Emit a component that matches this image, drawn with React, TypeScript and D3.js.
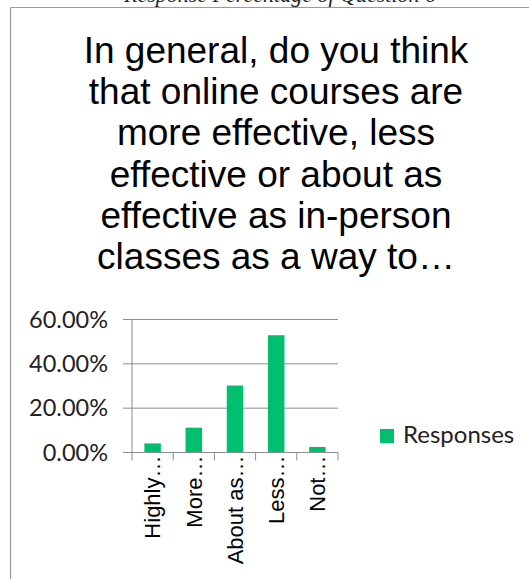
import React from "react";
import * as d3 from "d3";

const categories = ["Highly…", "More…", "About as…", "Less…", "Not…"];
const responses = [0.041, 0.112, 0.302, 0.529, 0.025];
const yTicks = [0, 0.2, 0.4, 0.6];
const seriesName = "Responses";
const titleLines = [
  "In general, do you think",
  "that online courses are",
  "more effective, less",
  "effective or about as",
  "effective as in-person",
  "classes as a way to…",
];
const captionText = "Response Percentage of Question 6";

const W = 529;
const H = 579;
const BAR = "#00BF6F";
const GRID = "#8c8c8c";

export default function App() {
  const x = d3.scaleBand<string>().domain(categories).range([132, 338]).padding(0);
  const y = d3.scaleLinear().domain([0, 0.6]).range([452.5, 319.5]);
  const fmt = d3.format(".2%");
  const bw = x.bandwidth() / 2.5;
  const y0 = y(0);
  const boundaries = categories.map((c) => x(c) as number).concat([x.range()[1]]);

  return (
    <svg
      width={W}
      height={H}
      style={{ position: "absolute", left: 0, top: 0, background: "#fff" }}
    >
      <rect x={0} y={0} width={W} height={H} fill="#fff" />
      {/* caption of the page, cut off at the top edge as in the reference */}
      <text
        x={280}
        y={2}
        textAnchor="middle"
        fontFamily="'Liberation Serif', 'Times New Roman', serif"
        fontStyle="italic"
        fontSize={22}
        fill="#222"
      >
        {captionText}
      </text>
      {/* frame */}
      <line x1={10.5} y1={7.5} x2={W} y2={7.5} stroke="#9a9a9a" strokeWidth={1.2} />
      <line x1={10.5} y1={7.5} x2={10.5} y2={H} stroke="#9a9a9a" strokeWidth={1.2} />

      {/* title */}
      {titleLines.map((t, i) => (
        <text
          key={i}
          x={276}
          y={63 + i * 41.2}
          textAnchor="middle"
          fontFamily="'Liberation Sans', Arial, sans-serif"
          fontSize={37}
          fill="#000"
        >
          {t}
        </text>
      ))}

      {/* gridlines + y ticks */}
      {yTicks.map((t) => (
        <g key={t}>
          <line x1={123} x2={338} y1={y(t)} y2={y(t)} stroke={GRID} strokeWidth={1} />
          <text
            x={108}
            y={y(t)}
            dy="0.35em"
            textAnchor="end"
            fontFamily="Lato, 'Open Sans', sans-serif"
            fontSize={23.5}
            fill="#222"
          >
            {fmt(t)}
          </text>
        </g>
      ))}
      {/* y axis line */}
      <line x1={132} x2={132} y1={y(0.6)} y2={y0} stroke={GRID} strokeWidth={1} />

      {/* bars */}
      {categories.map((c, i) => (
        <rect
          key={c}
          x={(x(c) as number) + (x.bandwidth() - bw) / 2}
          y={y(responses[i])}
          width={bw}
          height={y0 - y(responses[i])}
          fill={BAR}
        />
      ))}

      {/* x axis */}
      <line x1={132} x2={338} y1={y0} y2={y0} stroke={GRID} strokeWidth={1} />
      {boundaries.map((b, i) => (
        <line key={i} x1={b} x2={b} y1={y0} y2={y0 + 8} stroke={GRID} strokeWidth={1} />
      ))}
      {categories.map((c) => {
        const cx = (x(c) as number) + x.bandwidth() / 2;
        return (
          <text
            key={c}
            transform={`translate(${cx},${y0 + 3}) rotate(-90)`}
            textAnchor="end"
            dy="0.35em"
            fontFamily="'Liberation Sans', Arial, sans-serif"
            fontSize={22}
            fill="#000"
          >
            {c}
          </text>
        );
      })}

      {/* legend */}
      <rect x={380} y={429} width={14} height={14} fill={BAR} />
      <text
        x={403}
        y={443}
        fontFamily="Lato, 'Open Sans', sans-serif"
        fontSize={24}
        fill="#222"
      >
        {seriesName}
      </text>
    </svg>
  );
}
